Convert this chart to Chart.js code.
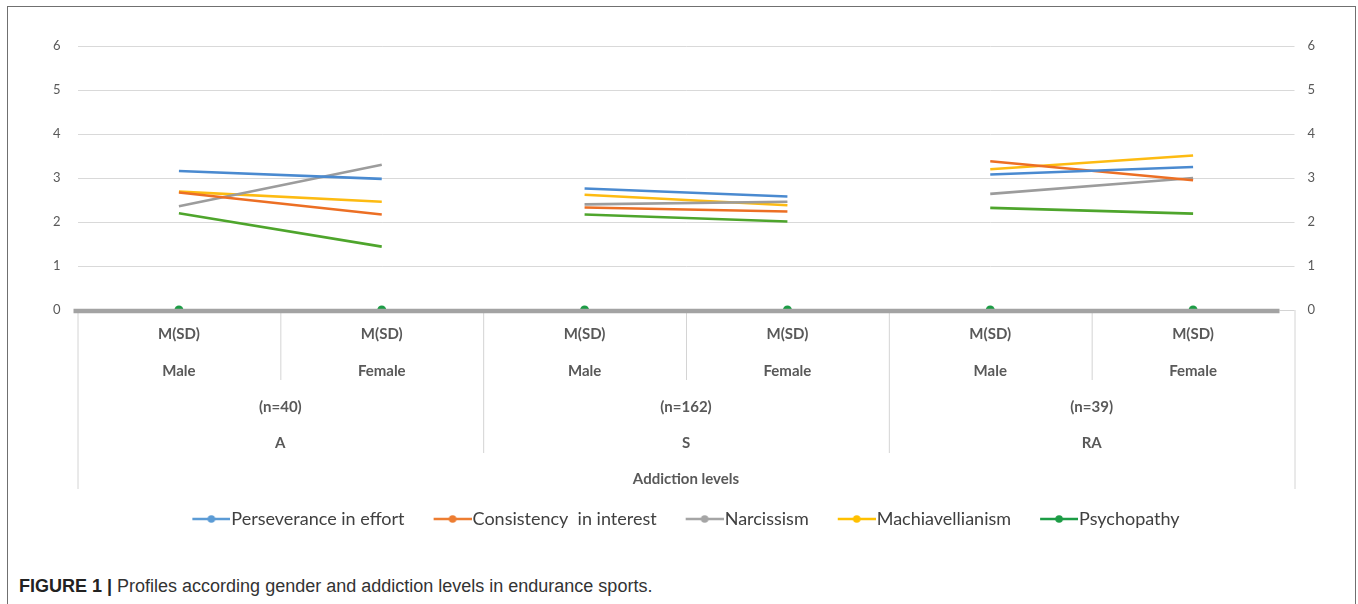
<!DOCTYPE html>
<html>
<head>
<meta charset="utf-8">
<script src="https://cdn.jsdelivr.net/npm/chart.js@4.4.1/dist/chart.umd.min.js"></script>
<style>
    body { margin: 0; background: #fff; }
    #frame {
        position: absolute; left: 7px; top: 6px; width: 1347px; height: 640px;
        border: 1.5px solid #707070; border-bottom: none;
    }
    #chart-box { position: absolute; left: 0; top: 0; width: 1347px; height: 540px; }
    #caption {
        position: absolute; left: 11px; top: 569px;
        font-family: "Liberation Sans", Arial, sans-serif; font-size: 18px; color: #333;
    }
    #caption b { color: #222; }
</style>
</head>
<body>
<div id="frame">
    <div id="chart-box"><canvas id="profile-chart"></canvas></div>
    <div id="caption"><b>FIGURE 1 |</b> Profiles according gender and addiction levels in endurance sports.</div>
</div>
<script>
const categories = ['Male', 'Female', 'Male', 'Female', 'Male', 'Female'];
const statLabel = 'M(SD)';
const groups = [['(n=40)', 'A'], ['(n=162)', 'S'], ['(n=39)', 'RA']];
const axisTitle = 'Addiction levels';
const yTicks = [0, 1, 2, 3, 4, 5, 6];

const perseverance = [3.16, 2.98, 2.76, 2.58, 3.08, 3.25];
const consistency = [2.67, 2.17, 2.33, 2.24, 3.38, 2.95];
const narcissism = [2.36, 3.30, 2.40, 2.46, 2.64, 3.00];
const machiavellianism = [2.69, 2.46, 2.62, 2.38, 3.20, 3.51];
const psychopathy = [2.20, 1.44, 2.17, 2.01, 2.32, 2.19];
const baseline = [0, 0, 0, 0, 0, 0];

const seriesNames = ['Perseverance in effort', 'Consistency  in interest', 'Narcissism', 'Machiavellianism', 'Psychopathy'];
const seriesData = [perseverance, consistency, narcissism, machiavellianism, psychopathy];
const lineColors = ['#4a8ad0', '#ec6f24', '#9c9c9c', '#fdbb12', '#4ea52c'];
const markColors = ['#5b9bd5', '#ed7d31', '#a5a5a5', '#ffc000', '#1c9c45'];

// legend marker: short line with a dot, pushed to the right so it sits next to the text
function makeMarker(color) {
    const c = document.createElement('canvas');
    c.width = 55;
    c.height = 10;
    const g = c.getContext('2d');
    g.strokeStyle = color;
    g.lineWidth = 2.5;
    g.beginPath();
    g.moveTo(17, 5);
    g.lineTo(55, 5);
    g.stroke();
    g.fillStyle = color;
    g.beginPath();
    g.arc(36, 5, 3.8, 0, Math.PI * 2);
    g.fill();
    return c;
}

const datasets = seriesData.map((values, i) => ({
    label: seriesNames[i],
    data: values,
    borderColor: lineColors[i],
    backgroundColor: lineColors[i],
    borderWidth: 2.6,
    pointRadius: 0,
    pointHoverRadius: 0,
    pointStyle: makeMarker(markColors[i]),
    segment: {
        // only Male -> Female inside one group is joined
        borderColor: ctx => ctx.p0DataIndex % 2 ? 'rgba(0,0,0,0)' : lineColors[i]
    }
}));

datasets.push({
    label: '',
    data: baseline,
    showLine: false,
    borderWidth: 0,
    pointRadius: 4.5,
    pointBackgroundColor: '#1c9c45',
    pointBorderWidth: 0
});

const tableLines = {
    id: 'tableLines',
    afterDatasetsDraw(chart) {
        const {ctx, chartArea: a, scales: {x, y}} = chart;
        const y0 = y.getPixelForValue(0);
        const n = categories.length;
        ctx.save();
        ctx.strokeStyle = '#d4d4d4';
        ctx.lineWidth = 1;
        for (let i = 0; i <= n; i++) {
            let px;
            if (i === 0) px = a.left;
            else if (i === n) px = a.right;
            else px = (x.getPixelForValue(i - 1) + x.getPixelForValue(i)) / 2;
            let len = 70;
            if (i === 0 || i === n) len = 179;
            else if (i % 2 === 0) len = 143;
            ctx.beginPath();
            ctx.moveTo(px + 0.5, y0);
            ctx.lineTo(px + 0.5, y0 + len);
            ctx.stroke();
        }
        ctx.beginPath();
        ctx.moveTo(a.right - 15, y0 + 0.5);
        ctx.lineTo(a.right, y0 + 0.5);
        ctx.stroke();
        // heavy zero line
        ctx.strokeStyle = '#a3a3a3';
        ctx.lineWidth = 4.5;
        ctx.beginPath();
        ctx.moveTo(a.left - 4, y0 + 1);
        ctx.lineTo(a.right - 15, y0 + 1);
        ctx.stroke();
        ctx.restore();
    }
};

const labelFont = {family: 'Lato, sans-serif', size: 15, weight: 'bold'};

new Chart(document.getElementById('profile-chart'), {
    type: 'line',
    data: {
        labels: categories.map(c => [statLabel, c]),
        datasets: datasets
    },
    plugins: [tableLines],
    options: {
        responsive: true,
        maintainAspectRatio: false,
        animation: false,
        layout: {padding: {top: 39, bottom: 9}},
        plugins: {
            tooltip: {enabled: false},
            legend: {
                position: 'bottom',
                labels: {
                    usePointStyle: true,
                    pointStyleWidth: 39,
                    boxHeight: 10,
                    padding: 20,
                    color: '#404040',
                    font: {family: 'Lato, sans-serif', size: 18},
                    filter: item => item.text !== ''
                }
            }
        },
        scales: {
            x: {
                offset: true,
                weight: 0,
                grid: {display: false, drawTicks: false},
                border: {display: false},
                ticks: {
                    color: '#595959',
                    padding: 5.5,
                    maxRotation: 0,
                    autoSkip: false,
                    font: {...labelFont, lineHeight: '37px'}
                }
            },
            x2: {
                type: 'category',
                labels: groups,
                position: 'bottom',
                offset: true,
                weight: 1,
                grid: {display: false, drawTicks: false},
                border: {display: false},
                ticks: {
                    color: '#595959',
                    padding: -5.5,
                    maxRotation: 0,
                    autoSkip: false,
                    font: {...labelFont, lineHeight: '36px'}
                },
                title: {
                    display: true,
                    text: axisTitle,
                    color: '#595959',
                    font: labelFont,
                    padding: {top: 14, bottom: 2}
                }
            },
            y: {
                position: 'left',
                min: yTicks[0],
                max: yTicks[yTicks.length - 1],
                afterFit: s => { s.width = 69.5; },
                afterBuildTicks: s => { s.ticks = yTicks.map(v => ({value: v})); },
                grid: {
                    drawTicks: false,
                    color: ctx => ctx.tick.value === 0 ? 'rgba(0,0,0,0)' : '#d9d9d9'
                },
                border: {display: false},
                ticks: {
                    color: '#595959',
                    padding: 17,
                    font: {family: 'Lato, sans-serif', size: 13}
                }
            },
            y2: {
                position: 'right',
                min: yTicks[0],
                max: yTicks[yTicks.length - 1],
                afterFit: s => { s.width = 60.5; },
                afterBuildTicks: s => { s.ticks = yTicks.map(v => ({value: v})); },
                grid: {display: false, drawTicks: false},
                border: {display: false},
                ticks: {
                    color: '#595959',
                    padding: 13,
                    font: {family: 'Lato, sans-serif', size: 13}
                }
            }
        }
    }
});
</script>
</body>
</html>
